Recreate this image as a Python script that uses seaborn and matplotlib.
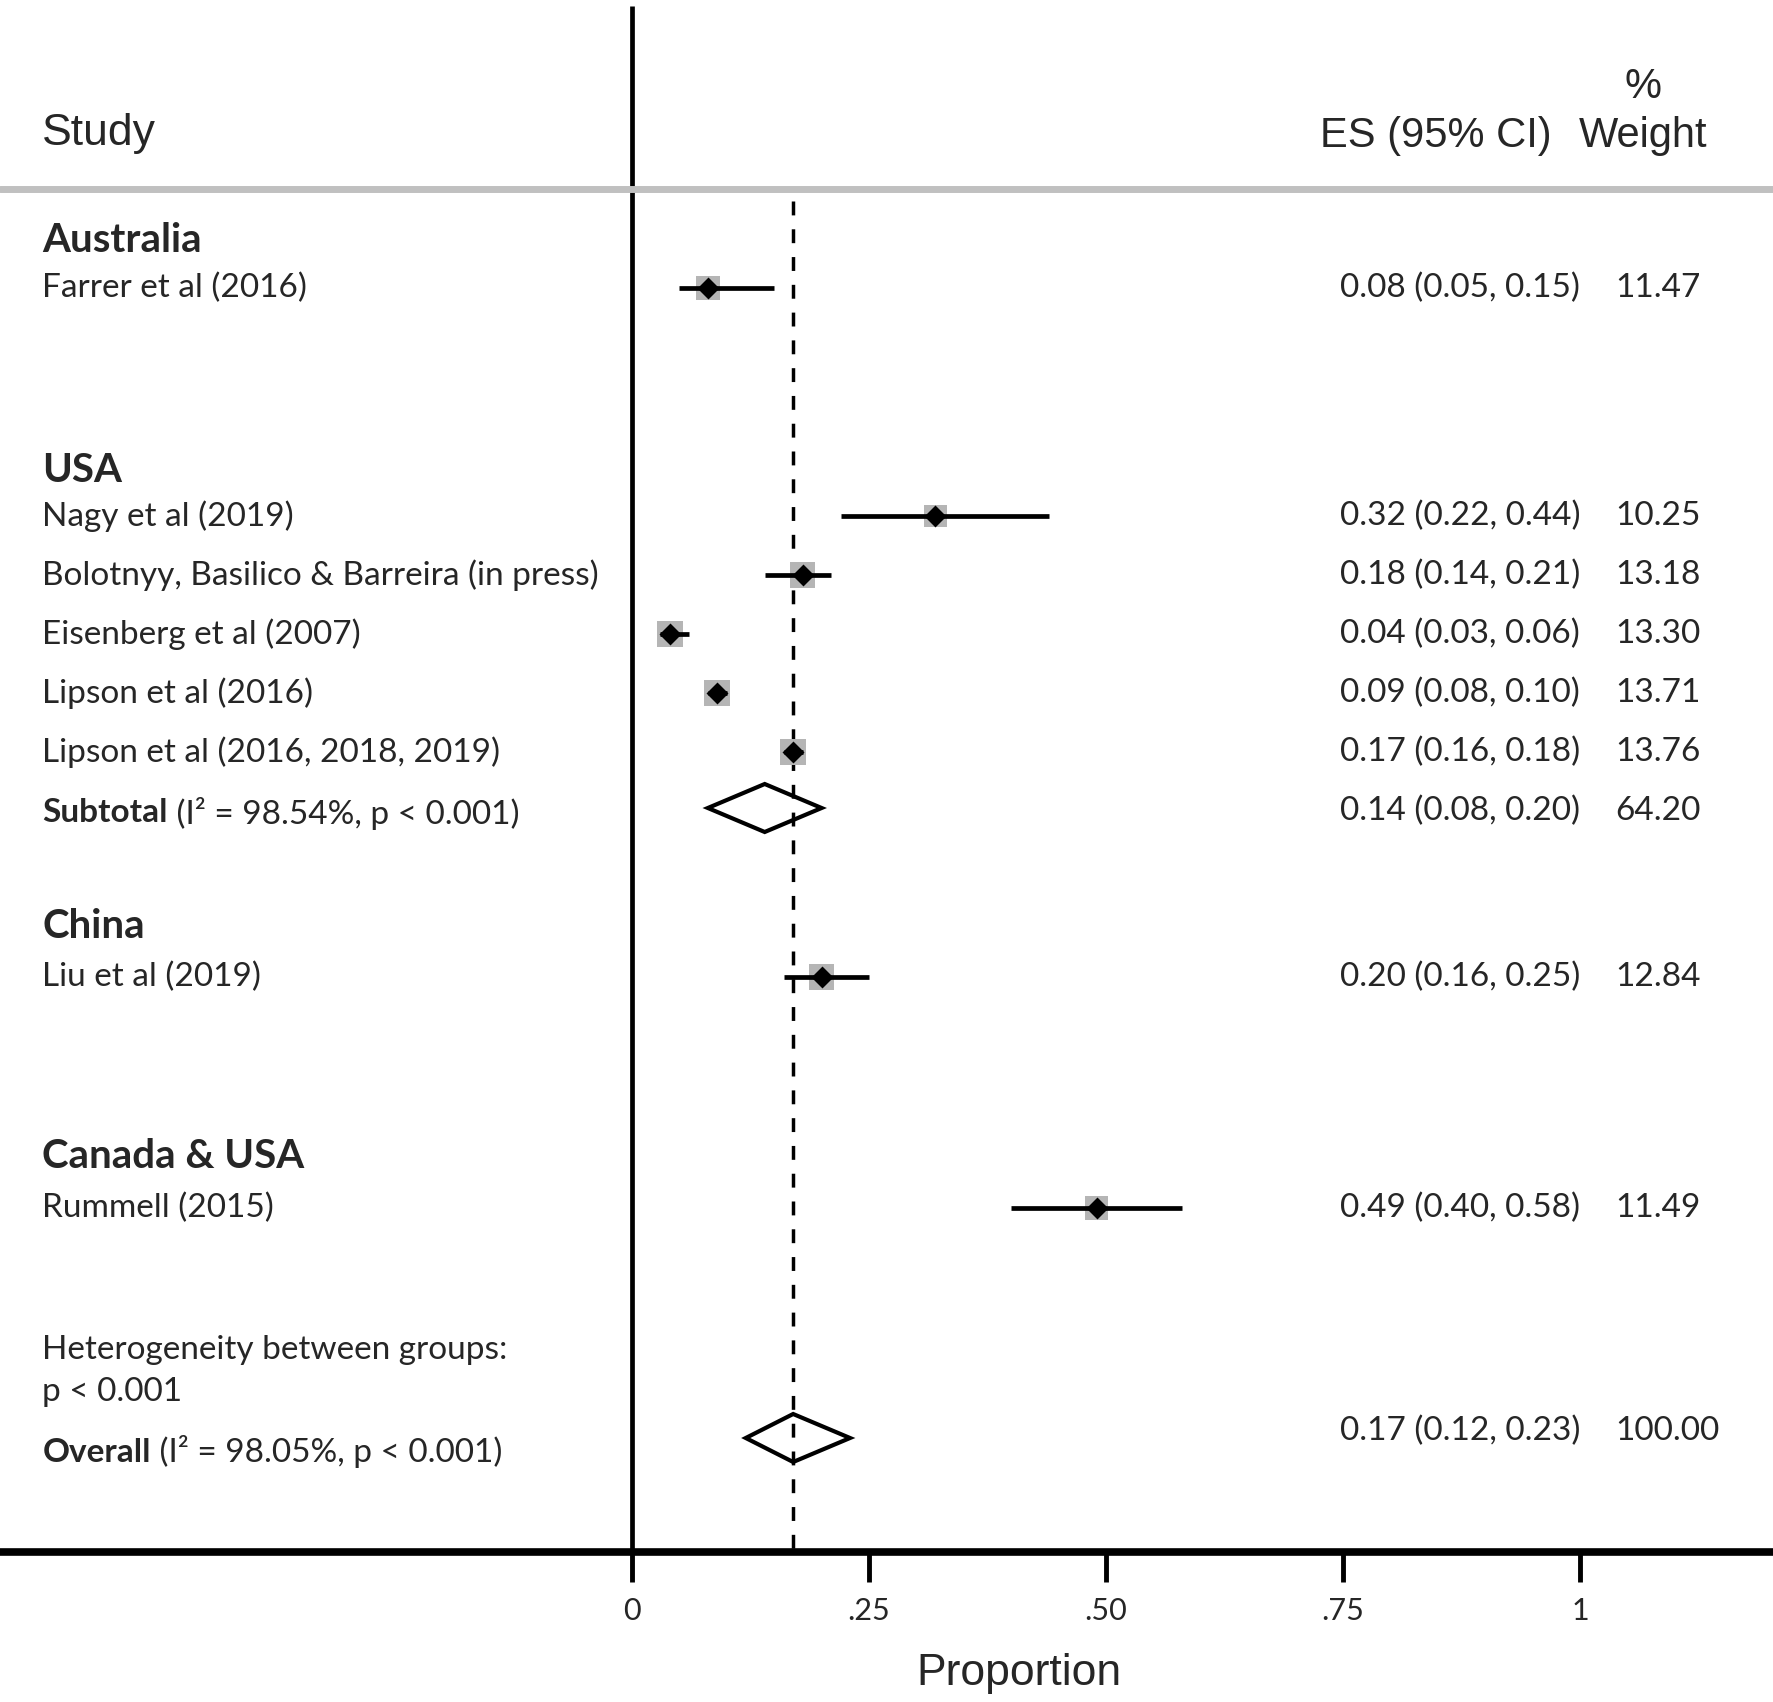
import pandas as pd
import seaborn as sns
import matplotlib.pyplot as plt

# Estudios individuales: proporción, IC 95% y peso (%)
studies = ["Farrer et al (2016)", "Nagy et al (2019)",
           "Bolotnyy, Basilico & Barreira (in press)", "Eisenberg et al (2007)",
           "Lipson et al (2016)", "Lipson et al (2016, 2018, 2019)",
           "Liu et al (2019)", "Rummell (2015)"]
regions = ["Australia", "USA", "USA", "USA", "USA", "USA", "China", "Canada & USA"]
es = [0.08, 0.32, 0.18, 0.04, 0.09, 0.17, 0.20, 0.49]
ci_low = [0.05, 0.22, 0.14, 0.03, 0.08, 0.16, 0.16, 0.40]
ci_high = [0.15, 0.44, 0.21, 0.06, 0.10, 0.18, 0.25, 0.58]
weight = [11.47, 10.25, 13.18, 13.30, 13.71, 13.76, 12.84, 11.49]

# Estimaciones combinadas
pooled_names = ["Subtotal", "Overall"]
pooled_notes = [" (I² = 98.54%, p < 0.001)", " (I² = 98.05%, p < 0.001)"]
pooled_es = [0.14, 0.17]
pooled_low = [0.08, 0.12]
pooled_high = [0.20, 0.23]
pooled_weight = [64.20, 100.00]

xticks = [0, 0.25, 0.5, 0.75, 1]
xticklabels = ["0", ".25", ".50", ".75", "1"]

# Posiciones verticales de cada fila (pixeles de la figura, eje invertido)
group_rows = {"Australia": 241, "USA": 470, "China": 926, "Canada & USA": 1156}
study_y = [288, 516, 575, 634, 693, 752, 977, 1208]
pooled_y = [808, 1438]
pooled_label_y = [813, 1452]
pooled_text_y = [811, 1431]

df = pd.DataFrame({"study": studies, "region": regions, "es": es,
                   "lo": ci_low, "hi": ci_high, "weight": weight, "y": study_y})

sns.set_style("white")
plt.rcParams["font.family"] = ["Lato", "DejaVu Sans"]
arial = ["Liberation Sans", "DejaVu Sans"]
body = 24

fig = plt.figure(figsize=(17.73, 17.02), dpi=100)
ax = fig.add_axes([0, 0, 1, 1])

# cabecera
ax.text(-0.622, 133, "Study", fontsize=32, family=arial, va="center", ha="left")
ax.text(0.848, 136, "ES (95% CI)", fontsize=30, family=arial, va="center", ha="center")
ax.text(1.066, 87, "%", fontsize=30, family=arial, va="center", ha="center")
ax.text(1.066, 136, "Weight", fontsize=30, family=arial, va="center", ha="center")
ax.axhline(189, color="#c0c0c0", lw=5, zorder=6)

# ejes
ax.vlines(0, 6, 1552, color="black", lw=3.4, zorder=5)
ax.axhline(1552, color="black", lw=5.5, zorder=5)
ax.vlines(xticks, 1552, 1582, color="black", lw=3.5)
for t, lab in zip(xticks, xticklabels):
    ax.text(t, 1611, lab, fontsize=22, va="center", ha="center")
ax.text(0.408, 1673, "Proportion", fontsize=32, family=arial, va="center", ha="center")

# línea del efecto global
ax.vlines(pooled_es[1], 201, 1552, color="black", lw=2.5, linestyles=(0, (4, 4)), zorder=2)

# cuadros de peso, IC y estimaciones puntuales
sns.scatterplot(data=df, x="es", y="y", size="weight", sizes=(0, 25.5 * 14),
                size_norm=(0, 14), marker="s", color="#b5b5b5", linewidth=0,
                legend=False, ax=ax, zorder=2.5)
ax.hlines(df["y"], df["lo"], df["hi"], color="black", lw=3.4, zorder=3)
sns.scatterplot(data=df, x="es", y="y", marker="D", s=125, color="black",
                linewidth=0, legend=False, ax=ax, zorder=4)
ax.set_xlim(-632 / 948, (1773 - 632) / 948)
ax.set_ylim(1702, 0)
ax.axis("off")

# textos por estudio
for name, y in group_rows.items():
    ax.text(-0.622, y, name, fontsize=29, weight="bold", va="center", ha="left")
for _, r in df.iterrows():
    ax.text(-0.622, r["y"], r["study"], fontsize=body, va="center", ha="left")
    ax.text(1.0, r["y"], f"{r['es']:.2f} ({r['lo']:.2f}, {r['hi']:.2f})",
            fontsize=body, va="center", ha="right")
    ax.text(1.037, r["y"], f"{r['weight']:.2f}", fontsize=body, va="center", ha="left")

# diamantes combinados
for i in range(len(pooled_es)):
    y = pooled_y[i]
    h = 24
    ax.fill([pooled_low[i], pooled_es[i], pooled_high[i], pooled_es[i]],
            [y, y - h, y, y + h], facecolor="white", edgecolor="black",
            lw=3, zorder=1.5)
    t = ax.text(-0.622, pooled_label_y[i], pooled_names[i], fontsize=body,
                weight="bold", va="center", ha="left")
    ax.annotate(pooled_notes[i], xy=(1, 0.5), xycoords=t, fontsize=body,
                va="center", ha="left")
    ax.text(1.0, pooled_text_y[i],
            f"{pooled_es[i]:.2f} ({pooled_low[i]:.2f}, {pooled_high[i]:.2f})",
            fontsize=body, va="center", ha="right")
    ax.text(1.037, pooled_text_y[i], f"{pooled_weight[i]:.2f}", fontsize=body,
            va="center", ha="left")

ax.text(-0.622, 1350, "Heterogeneity between groups:", fontsize=body, va="center", ha="left")
ax.text(-0.622, 1392, "p < 0.001", fontsize=body, va="center", ha="left")

fig.savefig("out.png", dpi=100)
